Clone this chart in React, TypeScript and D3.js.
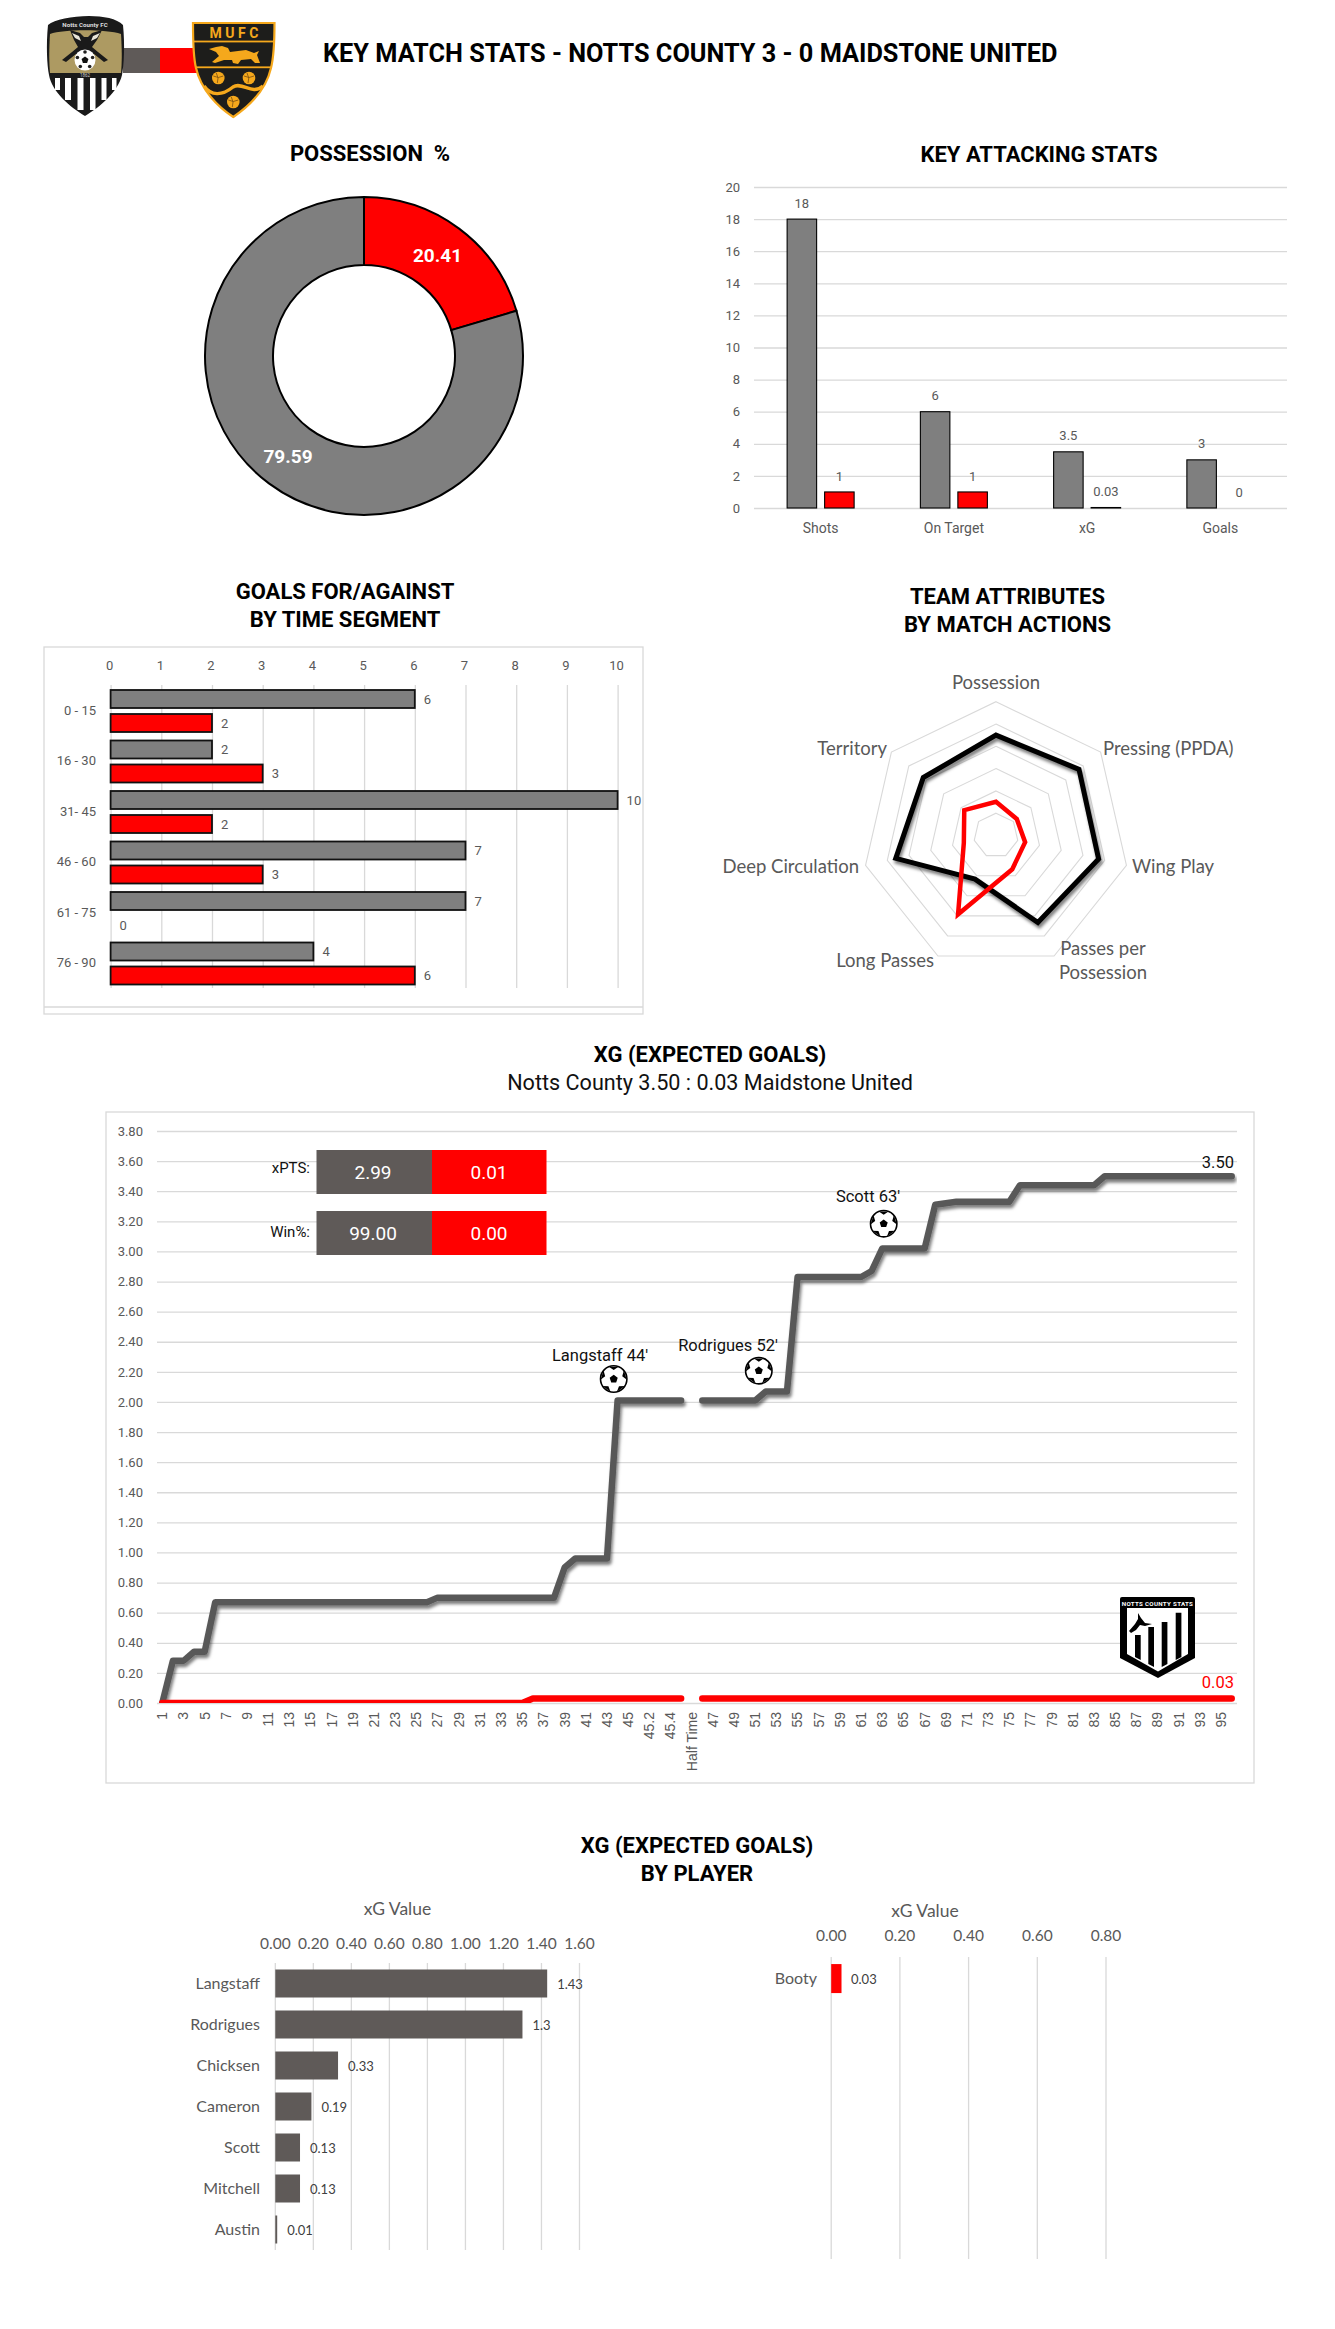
import { useEffect, useRef } from 'react';
import * as d3 from 'd3';

const W = 1335;
const H = 2329;

const GREY = '#7f7f7f';
const DARK = '#5f5a58';
const LINE_GREY = '#595959';
const RED = '#ff0000';
const GRID = '#d9d9d9';
const TEXT = '#595959';
const TITLE_FONT = 'Roboto, sans-serif';
const BODY_FONT = 'Lato, sans-serif';

// Possession
const possessionValues = [20.41, 79.59];

// Attacking stats
const attackCategories = ['Shots', 'On Target', 'xG', 'Goals'];
const attackHome = [18, 6, 3.5, 3];
const attackAway = [1, 1, 0.03, 0];
const attackTicks = [0, 2, 4, 6, 8, 10, 12, 14, 16, 18, 20];

// Goals by time segment
const segments = ['0 - 15', '16 - 30', '31- 45', '46 - 60', '61 - 75', '76 - 90'];
const segmentsFor = [6, 2, 10, 7, 7, 4];
const segmentsAgainst = [2, 3, 2, 3, 0, 6];
const segmentTicks = [0, 1, 2, 3, 4, 5, 6, 7, 8, 9, 10];

// Radar
const radarAxes = ['Possession', 'Pressing (PPDA)', 'Wing Play', 'Passes per Possession', 'Long Passes', 'Deep Circulation', 'Territory'];
const radarHome = [4.5, 4.76, 4.72, 4.33, 2.17, 4.61, 4.17];
const radarAway = [1.51, 1.19, 1.34, 1.68, 3.92, 1.48, 1.82];
const radarLevels = [1, 2, 3, 4, 5, 6];

// xG timeline
const minutes = [
  ...d3.range(1, 46).map(String),
  '45.1', '45.2', '45.3', '45.4', '45.5', 'Half Time',
  ...d3.range(46, 97).map(String),
];
const xgHome: (number | null)[] = [
  0, 0.28, 0.28, 0.34, 0.34,
  0.67, 0.67, 0.67, 0.67, 0.67, 0.67, 0.67, 0.67, 0.67, 0.67, 0.67, 0.67, 0.67, 0.67, 0.67, 0.67, 0.67, 0.67, 0.67, 0.67, 0.67,
  0.7, 0.7, 0.7, 0.7, 0.7, 0.7, 0.7, 0.7, 0.7, 0.7, 0.7, 0.7,
  0.9, 0.96, 0.96, 0.96, 0.96,
  2.01, 2.01, 2.01, 2.01, 2.01, 2.01, 2.01,
  null,
  2.01, 2.01, 2.01, 2.01, 2.01, 2.01,
  2.07, 2.07, 2.07,
  2.83, 2.83, 2.83, 2.83, 2.83, 2.83, 2.83,
  2.87, 3.02, 3.02, 3.02, 3.02, 3.02,
  3.31, 3.32, 3.33, 3.33, 3.33, 3.33, 3.33, 3.33,
  3.44, 3.44, 3.44, 3.44, 3.44, 3.44, 3.44, 3.44,
  3.5, 3.5, 3.5, 3.5, 3.5, 3.5, 3.5, 3.5, 3.5, 3.5, 3.5, 3.5, 3.5,
];
const xgAway: (number | null)[] = [
  0, 0, 0, 0, 0, 0, 0, 0, 0, 0, 0, 0, 0, 0, 0, 0, 0, 0, 0, 0, 0, 0, 0, 0, 0, 0, 0, 0, 0, 0, 0, 0, 0, 0, 0,
  0.03, 0.03, 0.03, 0.03, 0.03, 0.03, 0.03, 0.03, 0.03, 0.03,
  0.03, 0.03, 0.03, 0.03, 0.03,
  null,
  0.03, 0.03, 0.03, 0.03, 0.03, 0.03, 0.03, 0.03, 0.03, 0.03, 0.03, 0.03, 0.03, 0.03, 0.03, 0.03, 0.03,
  0.03, 0.03, 0.03, 0.03, 0.03, 0.03, 0.03, 0.03, 0.03, 0.03, 0.03, 0.03, 0.03, 0.03, 0.03, 0.03, 0.03,
  0.03, 0.03, 0.03, 0.03, 0.03, 0.03, 0.03, 0.03, 0.03, 0.03, 0.03, 0.03, 0.03, 0.03, 0.03, 0.03, 0.03,
];
const xgTicks = d3.range(0, 20).map((i) => i / 5);

// Summary boxes
const summaryLabels = ['xPTS:', 'Win%:'];
const summaryHome = ['2.99', '99.00'];
const summaryAway = ['0.01', '0.00'];

// Players
const homePlayers = ['Langstaff', 'Rodrigues', 'Chicksen', 'Cameron', 'Scott', 'Mitchell', 'Austin'];
const homePlayerXg = [1.43, 1.3, 0.33, 0.19, 0.13, 0.13, 0.01];
const homeTicks = [0, 0.2, 0.4, 0.6, 0.8, 1, 1.2, 1.4, 1.6];
const awayPlayers = ['Booty'];
const awayPlayerXg = [0.03];
const awayTicks = [0, 0.2, 0.4, 0.6, 0.8];

type Sel = d3.Selection<any, unknown, null, undefined>;

function txt(
  g: Sel,
  x: number,
  y: number,
  s: string,
  o: { size?: number; fill?: string; weight?: string | number; anchor?: string; font?: string } = {},
) {
  return g.append('text')
    .attr('x', x)
    .attr('y', y)
    .attr('dy', '0.35em')
    .attr('text-anchor', o.anchor ?? 'middle')
    .attr('fill', o.fill ?? TEXT)
    .attr('font-size', o.size ?? 13)
    .attr('font-weight', o.weight ?? 'normal')
    .attr('font-family', o.font ?? TITLE_FONT)
    .text(s);
}

function title(g: Sel, x: number, y: number, s: string, size = 22) {
  return txt(g, x, y, s, { size, fill: '#000', weight: 700 });
}

// gridlines come from the axis tick lines, then everything gets the same look
function styleAxis(a: Sel, size: number, font: string) {
  a.select('.domain').remove();
  a.selectAll('line').attr('stroke', GRID).attr('stroke-width', 1.3);
  a.selectAll('text').attr('fill', TEXT).attr('font-size', size).attr('font-family', font);
}

function drawBall(g: Sel, cx: number, cy: number, r: number) {
  const b = g.append('g').attr('transform', `translate(${cx},${cy})`);
  b.append('circle').attr('r', r).attr('fill', '#fff').attr('stroke', '#000').attr('stroke-width', 1.6);
  const pent = d3.range(5).map((i) => {
    const a = (i * 2 * Math.PI) / 5 - Math.PI / 2;
    return `${r * 0.32 * Math.cos(a)},${r * 0.32 * Math.sin(a)}`;
  });
  b.append('polygon').attr('points', pent.join(' ')).attr('fill', '#000');
  d3.range(5).forEach((i) => {
    const a = (i * 2 * Math.PI) / 5 - Math.PI / 2;
    const wedge = [
      [r * Math.cos(a - 0.38), r * Math.sin(a - 0.38)],
      [r * Math.cos(a + 0.38), r * Math.sin(a + 0.38)],
      [r * 0.68 * Math.cos(a), r * 0.68 * Math.sin(a)],
    ];
    b.append('polygon').attr('points', wedge.map((p) => p.join(',')).join(' ')).attr('fill', '#000');
  });
}

function drawNottsCrest(g: Sel) {
  const c = g.append('g');
  const shield = 'M48,25 C60,15 110,11 123,25 C125,45 124,65 122,75 C118,92 100,107 85,116 C70,107 52,92 49,75 C47,65 46,45 48,25 Z';
  c.append('path').attr('d', shield).attr('fill', '#1a1a1a');
  c.append('path').attr('d', 'M50,34 C64,29 106,29 121,34 C122,50 122,62 121,73 L50,73 C49,62 49,50 50,34 Z').attr('fill', '#ad9a62');
  // stripes
  [[55, 5, 90], [65, 6, 100], [77.5, 6, 110], [90, 5.5, 110], [101.5, 5, 100], [112, 4.5, 90]].forEach(([x, w, y2]) => {
    c.append('rect').attr('x', x).attr('y', 78).attr('width', w).attr('height', y2 - 78).attr('fill', '#fff');
  });
  // magpies, ball and legs
  c.append('path')
    .attr('d', 'M70,30 L80,33 L84,37 L88,37 L92,33 L102,30 L97,40 L92,47 L98,52 L108,60 L104,62 L94,54 L76,54 L66,62 L62,60 L72,52 L78,47 L74,40 Z')
    .attr('fill', '#1a1a1a');
  c.append('path').attr('d', 'M72,33 L79,36 L81,41 L75,38 Z M100,33 L93,36 L91,41 L97,38 Z').attr('fill', '#e8e4d8');
  c.append('circle').attr('cx', 85).attr('cy', 60).attr('r', 10.5).attr('fill', '#fff');
  d3.range(5).forEach((i) => {
    const a = (i * 2 * Math.PI) / 5 - Math.PI / 2;
    c.append('circle').attr('cx', 85 + 8 * Math.cos(a)).attr('cy', 60 + 8 * Math.sin(a)).attr('r', 1.8).attr('fill', '#222');
  });
  drawBallSmall(c, 85, 60, 3.6, '#111');
  txt(c, 85, 24.5, 'Notts County FC', { size: 6.2, fill: '#ddd', weight: 700 });
  txt(c, 85, 75.5, '1862', { size: 4.5, fill: '#ccc' });
}

function drawBallSmall(g: Sel, cx: number, cy: number, r: number, fill: string) {
  const pts = d3.range(5).map((i) => {
    const a = (i * 2 * Math.PI) / 5 - Math.PI / 2;
    return `${cx + r * Math.cos(a)},${cy + r * Math.sin(a)}`;
  });
  g.append('polygon').attr('points', pts.join(' ')).attr('fill', fill);
}

function drawMaidstoneCrest(g: Sel) {
  const c = g.append('g');
  const gold = '#f5a81c';
  c.append('path')
    .attr('d', 'M193,23 L274.5,23 C274.5,45 273,60 271,68 C266,90 248,107 233.3,117 C218,107 201,90 196,68 C194,60 193,45 193,23 Z')
    .attr('fill', '#1d1d1b').attr('stroke', gold).attr('stroke-width', 2.2);
  c.append('rect').attr('x', 194).attr('y', 40.6).attr('width', 80).attr('height', 1.8).attr('fill', gold);
  c.append('rect').attr('x', 196).attr('y', 66.4).attr('width', 76).attr('height', 1.8).attr('fill', gold);
  txt(c, 234, 32.8, 'M U F C', { size: 14, fill: gold, weight: 700 });
  // lion
  c.append('path')
    .attr('d', 'M209,49 L216,47 L222,46 L228,48 L230,52 L246,50 L254,53 L259,51 L257,55 L260,63 L255,63 L251,59 L241,60 L238,64 L233,63 L232,60 L224,60 L215,63 L212,62 L219,56 L216,52 Z')
    .attr('fill', gold);
  [[218.3, 78], [249, 78], [233.3, 102]].forEach(([x, y]) => {
    c.append('circle').attr('cx', x).attr('cy', y).attr('r', 6.3).attr('fill', gold);
    c.append('path')
      .attr('d', `M${x - 5},${y - 2} Q${x},${y + 1} ${x + 5},${y - 2} M${x - 2},${y - 5} Q${x + 1},${y} ${x - 1},${y + 5}`)
      .attr('fill', 'none').attr('stroke', '#7a4f10').attr('stroke-width', 0.8);
  });
  c.append('path')
    .attr('d', 'M204,86 C211,96 222,96 233,87 C242,81 252,96 263,86')
    .attr('fill', 'none').attr('stroke', gold).attr('stroke-width', 3.4);
}

function drawStatsBadge(g: Sel) {
  const c = g.append('g');
  c.append('path')
    .attr('d', 'M1122,1597 L1193,1597 Q1195,1597 1195,1599 L1195,1658 L1158,1678 L1120,1658 L1120,1599 Q1120,1597 1122,1597 Z')
    .attr('fill', '#000');
  c.append('path').attr('d', 'M1127,1608 L1188,1608 L1188,1654 L1158,1671.5 L1127,1654 Z').attr('fill', '#fff');
  txt(c, 1157.5, 1604, 'NOTTS COUNTY STATS', { size: 6.2, fill: '#fff', weight: 700 }).attr('letter-spacing', 0.3);
  [[1135, 1635, 1657, 1660], [1148.3, 1627, 1664, 1667], [1161.7, 1622, 1667, 1664], [1175.7, 1612.7, 1660, 1657]].forEach(([x, y, y1, y2]) => {
    c.append('polygon')
      .attr('points', `${x},${y} ${x + 5.7},${y} ${x + 5.7},${y2} ${x},${y1}`)
      .attr('fill', '#000');
  });
  c.append('path')
    .attr('d', 'M1138,1613 L1141,1618 L1145,1623 L1152,1624 L1145,1626 L1140,1625 L1136,1630 L1131,1633 L1129,1631 L1135,1624 L1138,1619 Z')
    .attr('fill', '#000');
}

export default function App() {
  const ref = useRef<SVGSVGElement>(null);

  useEffect(() => {
    if (!ref.current) return;
    const svg = d3.select(ref.current) as unknown as Sel;
    svg.selectAll('*').remove();

    const defs = svg.append('defs');
    defs.append('filter').attr('id', 'shadow').attr('x', '-10%').attr('y', '-10%').attr('width', '120%').attr('height', '120%')
      .append('feDropShadow')
      .attr('dx', 1.5).attr('dy', 3.2).attr('stdDeviation', 1.7)
      .attr('flood-color', '#000').attr('flood-opacity', 0.5);
    defs.append('clipPath').attr('id', 'xg-clip').append('rect')
      .attr('x', 157).attr('y', 1120).attr('width', 1080).attr('height', 583);

    // Header
    svg.append('rect').attr('x', 123).attr('y', 48).attr('width', 37).attr('height', 25).attr('fill', DARK);
    svg.append('rect').attr('x', 160).attr('y', 48).attr('width', 37).attr('height', 25).attr('fill', RED);
    drawNottsCrest(svg);
    drawMaidstoneCrest(svg);
    txt(svg, 323, 53, 'KEY MATCH STATS - NOTTS COUNTY 3 - 0 MAIDSTONE UNITED', { size: 25.3, fill: '#000', weight: 700, anchor: 'start' });

    // Possession donut
    title(svg, 370, 153, 'POSSESSION\u00a0\u00a0%');
    const pie = d3.pie<number>().sort(null);
    const arc = d3.arc<d3.PieArcDatum<number>>().innerRadius(91).outerRadius(159);
    const donut = svg.append('g').attr('transform', 'translate(364,356)');
    donut.selectAll('path').data(pie(possessionValues)).join('path')
      .attr('d', arc as any)
      .attr('fill', (_, i) => (i === 0 ? RED : GREY))
      .attr('stroke', '#000').attr('stroke-width', 2);
    txt(svg, 437.5, 255, possessionValues[0].toFixed(2), { size: 19, fill: '#fff', weight: 700 });
    txt(svg, 288, 456, possessionValues[1].toFixed(2), { size: 19, fill: '#fff', weight: 700 });

    // Key attacking stats
    title(svg, 1039, 154, 'KEY ATTACKING STATS');
    const aX = d3.scaleBand<string>().domain(attackCategories).range([754, 1287]);
    const aY = d3.scaleLinear().domain([0, 20]).range([508, 187]);
    const aAxis = svg.append('g').attr('transform', 'translate(754,0)')
      .call(d3.axisLeft(aY).tickValues(attackTicks).tickSize(-533).tickPadding(14) as any);
    styleAxis(aAxis, 13, TITLE_FONT);
    const barW = 29.5;
    const drawAttack = (vals: number[], offset: number, fill: string) => {
      vals.forEach((v, i) => {
        const x = aX(attackCategories[i])! + aX.bandwidth() / 2 + offset;
        if (v > 0) {
          svg.append('rect').attr('x', x).attr('y', aY(v)).attr('width', barW).attr('height', aY(0) - aY(v))
            .attr('fill', fill).attr('stroke', '#000').attr('stroke-width', 1.1);
        }
        txt(svg, x + barW / 2, aY(v) - 16, String(v), { size: 13 });
      });
    };
    drawAttack(attackHome, -33.5, GREY);
    drawAttack(attackAway, 4, RED);
    attackCategories.forEach((c) => txt(svg, aX(c)! + aX.bandwidth() / 2, 528, c, { size: 14 }));

    // Goals by segment
    title(svg, 345, 591, 'GOALS FOR/AGAINST');
    title(svg, 345, 619, 'BY TIME SEGMENT');
    svg.append('rect').attr('x', 44).attr('y', 647).attr('width', 599).attr('height', 367)
      .attr('fill', '#fff').attr('stroke', GRID).attr('stroke-width', 1.3);
    svg.append('line').attr('x1', 44).attr('x2', 643).attr('y1', 1007).attr('y2', 1007).attr('stroke', GRID).attr('stroke-width', 1.3);
    const sX = d3.scaleLinear().domain([0, 10]).range([110.6, 617.6]);
    const sY = d3.scaleBand<string>().domain(segments).range([685, 988]);
    const sAxis = svg.append('g').attr('transform', 'translate(0,685)')
      .call(d3.axisTop(sX).tickValues(segmentTicks).tickFormat(d3.format('d') as any).tickSize(-303).tickPadding(15) as any);
    styleAxis(sAxis, 13, TITLE_FONT);
    sAxis.selectAll('text').attr('dx', -1.5);
    const drawSegment = (vals: number[], offset: number, fill: string) => {
      vals.forEach((v, i) => {
        const y = sY(segments[i])! + offset;
        if (v > 0) {
          svg.append('rect').attr('x', sX(0)).attr('y', y).attr('width', sX(v) - sX(0)).attr('height', 18)
            .attr('fill', fill).attr('stroke', '#111').attr('stroke-width', 1.8);
        }
        txt(svg, sX(v) + 9, y + 9, String(v), { size: 13, anchor: 'start' });
      });
    };
    drawSegment(segmentsFor, 5, GREY);
    drawSegment(segmentsAgainst, 29, RED);
    segments.forEach((s) => txt(svg, 96, sY(s)! + sY.bandwidth() / 2, s, { size: 13, anchor: 'end' }));

    // Radar
    title(svg, 1007.5, 596, 'TEAM ATTRIBUTES');
    title(svg, 1007.5, 624, 'BY MATCH ACTIONS');
    const rScale = d3.scaleLinear().domain([0, 6]).range([0, 133.8]);
    const angle = (i: number) => (i * 2 * Math.PI) / radarAxes.length;
    const radar = svg.append('g').attr('transform', 'translate(996,835.5)');
    const radial = d3.lineRadial<number>().angle((_, i) => angle(i)).radius((d) => rScale(d)).curve(d3.curveLinearClosed);
    radarLevels.forEach((l) => {
      radar.append('path').attr('d', radial(radarAxes.map(() => l))!)
        .attr('fill', 'none').attr('stroke', GRID).attr('stroke-width', 1.1);
    });
    radar.append('path').attr('d', radial(radarHome)!)
      .attr('fill', 'none').attr('stroke', '#000').attr('stroke-width', 5).attr('stroke-linejoin', 'miter')
      .attr('filter', 'url(#shadow)');
    radar.append('path').attr('d', radial(radarAway)!)
      .attr('fill', 'none').attr('stroke', RED).attr('stroke-width', 4.5).attr('stroke-linejoin', 'miter');
    const rl = { size: 18.5, font: BODY_FONT };
    txt(svg, 996, 682.5, 'Possession', rl);
    txt(svg, 1103, 749, 'Pressing (PPDA)', { ...rl, anchor: 'start' });
    txt(svg, 1132, 867, 'Wing Play', { ...rl, anchor: 'start' });
    txt(svg, 1103, 949, 'Passes per', rl);
    txt(svg, 1103, 973, 'Possession', rl);
    txt(svg, 934, 961, 'Long Passes', { ...rl, anchor: 'end' });
    txt(svg, 859, 867, 'Deep Circulation', { ...rl, anchor: 'end' });
    txt(svg, 887, 749, 'Territory', { ...rl, anchor: 'end' });

    // xG timeline
    title(svg, 710, 1054, 'XG (EXPECTED GOALS)');
    txt(svg, 710, 1082, 'Notts County 3.50 : 0.03 Maidstone United', { size: 21.6, fill: '#111', font: TITLE_FONT });
    svg.append('rect').attr('x', 106).attr('y', 1112).attr('width', 1148).attr('height', 671)
      .attr('fill', '#fff').attr('stroke', GRID).attr('stroke-width', 1.3);
    const tX = d3.scaleBand<string>().domain(minutes).range([157, 1237]);
    const tY = d3.scaleLinear().domain([0, 3.8]).range([1703, 1131]);
    const tYAxis = svg.append('g').attr('transform', 'translate(157,0)')
      .call(d3.axisLeft(tY).tickValues(xgTicks).tickFormat(d3.format('.2f') as any).tickSize(-1080).tickPadding(14) as any);
    styleAxis(tYAxis, 13, TITLE_FONT);
    const tXAxis = svg.append('g').attr('transform', 'translate(0,1703)')
      .call(d3.axisBottom(tX).tickValues(minutes.filter((_, i) => i % 2 === 0)).tickSize(0) as any);
    tXAxis.select('.domain').remove();
    tXAxis.selectAll('text')
      .attr('transform', 'rotate(-90)')
      .attr('x', -9).attr('y', 0).attr('dy', '0.35em')
      .attr('text-anchor', 'end').attr('fill', TEXT)
      .attr('font-size', 14).attr('font-family', 'Liberation Sans, sans-serif');
    const tLine = d3.line<number | null>()
      .defined((d) => d !== null)
      .x((_, i) => tX(minutes[i])! + tX.bandwidth() / 2)
      .y((d) => tY(d as number));
    const lines = svg.append('g').attr('clip-path', 'url(#xg-clip)');
    lines.append('path').attr('d', tLine(xgHome)!)
      .attr('fill', 'none').attr('stroke', LINE_GREY).attr('stroke-width', 6.5)
      .attr('stroke-linecap', 'round').attr('stroke-linejoin', 'round')
      .attr('filter', 'url(#shadow)');
    lines.append('path').attr('d', tLine(xgAway)!)
      .attr('fill', 'none').attr('stroke', RED).attr('stroke-width', 6.5)
      .attr('stroke-linecap', 'round').attr('stroke-linejoin', 'round');
    txt(svg, 1234, 1162, '3.50', { size: 16.5, fill: '#111', anchor: 'end' });
    txt(svg, 1234, 1682, '0.03', { size: 16.5, fill: RED, anchor: 'end' });

    // Goal markers
    txt(svg, 600, 1355, "Langstaff 44'", { size: 16.5, fill: '#111' });
    drawBall(svg, 613.7, 1379, 13.2);
    txt(svg, 728, 1345.5, "Rodrigues 52'", { size: 16.5, fill: '#111' });
    drawBall(svg, 758.8, 1370.7, 13.2);
    txt(svg, 868, 1196.5, "Scott 63'", { size: 16.5, fill: '#111' });
    drawBall(svg, 883.7, 1223.7, 13.2);

    // xPTS / Win% boxes
    summaryLabels.forEach((s, i) => {
      const y = i === 0 ? 1150 : 1211;
      svg.append('rect').attr('x', 316.5).attr('y', y).attr('width', 115.5).attr('height', 44).attr('fill', DARK);
      svg.append('rect').attr('x', 432).attr('y', y).attr('width', 114.5).attr('height', 44).attr('fill', RED);
      txt(svg, 310, y + (i === 0 ? 18 : 21), s, { size: 15, fill: '#111', anchor: 'end' });
      txt(svg, 373, y + 22.5, summaryHome[i], { size: 19, fill: '#fff' });
      txt(svg, 489, y + 22.5, summaryAway[i], { size: 19, fill: '#fff' });
    });
    drawStatsBadge(svg);

    // xG by player
    title(svg, 697, 1845, 'XG (EXPECTED GOALS)');
    title(svg, 697, 1873, 'BY PLAYER');
    txt(svg, 397.5, 1909, 'xG Value', { size: 17.5, font: BODY_FONT });
    const pX = d3.scaleLinear().domain([0, 1.6]).range([274.8, 579]);
    const pY = d3.scaleBand<string>().domain(homePlayers).range([1963, 2250]);
    const pAxis = svg.append('g').attr('transform', 'translate(0,1963)')
      .call(d3.axisTop(pX).tickValues(homeTicks).tickFormat(d3.format('.2f') as any).tickSize(-287).tickPadding(14) as any);
    styleAxis(pAxis, 15.5, BODY_FONT);
    homePlayers.forEach((p, i) => {
      const y = pY(p)! + (pY.bandwidth() - 28) / 2;
      svg.append('rect').attr('x', pX(0) + 0.5).attr('y', y).attr('width', pX(homePlayerXg[i]) - pX(0)).attr('height', 28).attr('fill', DARK);
      txt(svg, pX(homePlayerXg[i]) + 10.5, y + 14.5, String(homePlayerXg[i]), { size: 13, fill: '#404040', anchor: 'start', font: BODY_FONT });
      txt(svg, 260, y + 13.5, p, { size: 16, anchor: 'end', font: BODY_FONT });
    });

    txt(svg, 925, 1911, 'xG Value', { size: 17.5, font: BODY_FONT });
    const qX = d3.scaleLinear().domain([0, 0.8]).range([830.7, 1105.5]);
    const qY = d3.scaleBand<number>().domain(d3.range(7)).range([1957, 2259]);
    const qAxis = svg.append('g').attr('transform', 'translate(0,1957)')
      .call(d3.axisTop(qX).tickValues(awayTicks).tickFormat(d3.format('.2f') as any).tickSize(-302).tickPadding(16) as any);
    styleAxis(qAxis, 15.5, BODY_FONT);
    awayPlayers.forEach((p, i) => {
      const y = qY(i)! + (qY.bandwidth() - 29) / 2;
      svg.append('rect').attr('x', qX(0) + 0.5).attr('y', y).attr('width', qX(awayPlayerXg[i]) - qX(0)).attr('height', 29).attr('fill', RED);
      txt(svg, qX(awayPlayerXg[i]) + 10, y + 15, String(awayPlayerXg[i]), { size: 13, fill: '#404040', anchor: 'start', font: BODY_FONT });
      txt(svg, 817, y + 14, p, { size: 16, anchor: 'end', font: BODY_FONT });
    });
  }, []);

  return (
    <svg
      ref={ref}
      width={W}
      height={H}
      viewBox={`0 0 ${W} ${H}`}
      style={{ position: 'absolute', left: 0, top: 0, background: '#fff' }}
    />
  );
}
